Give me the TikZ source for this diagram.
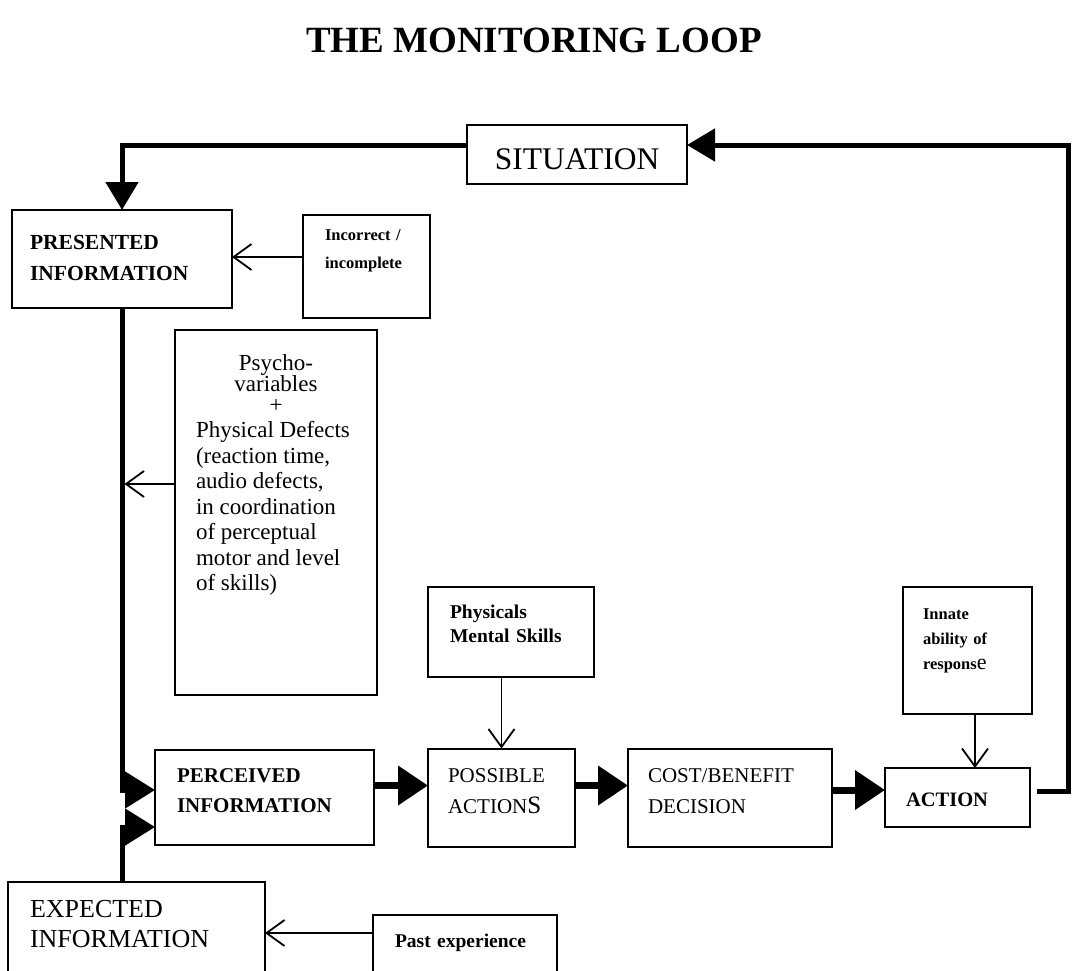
\documentclass[tikz,border=0pt]{standalone}
\usepackage{fontspec}
\setmainfont{Liberation Serif}
\usepackage{tikz}
\usetikzlibrary{
  arrows.meta,
  positioning,
}
\tikzstyle{box} = [
  rectangle,
  draw,
  line width=2pt,
  inner ysep=0pt,
  outer sep=0pt,
  align=left,
]
\tikzstyle{mainarrow} = [
  -{Triangle[length=30pt,width=38pt]},
  line width=7pt,
]
\tikzstyle{looparrow} = [
  -{Triangle[length=28pt,width=32pt]},
  line width=5pt,
]
\tikzstyle{sidearrow} = [
  -{Straight Barb[length=18pt,width=26pt]},
  line width=1.8pt,
]

\begin{document}
\begin{tikzpicture}[x=1pt,y=1pt,node distance=0pt and 0pt]
      \path[use as bounding box] (0,0) rectangle (1075,-970);
      \clip (0,0) rectangle (1075,-970);

      \node[anchor=base,font=\fontsize{37}{37}\selectfont\bfseries] (title) at (534,-52) {THE MONITORING LOOP};

      \node[box,align=center,text width=220pt,inner xsep=0pt,text height=44pt,text depth=15pt,font=\fontsize{31.5}{31.5}\selectfont] (situation) at (577,-154.5) {SITUATION};
      \node[box,text width=184pt,inner xsep=18pt,text height=39pt,text depth=59pt,font=\fontsize{21.5}{31}\selectfont\bfseries] (presented) at (122,-259) {PRESENTED\\INFORMATION};
      \node[box,text width=83pt,inner xsep=22pt,text height=25pt,text depth=78pt,font=\fontsize{16.5}{28}\selectfont\bfseries,yshift=-7.5pt] (incorrect) [right=71pt of presented] {Incorrect /\\incomplete};
      \node[box,align=none,text width=160pt,inner xsep=21pt,text height=40pt,text depth=325pt,font=\fontsize{23}{25.5}\selectfont] (psycho) at (276,-512.5)
        {{\centering\baselineskip=21pt Psycho-\\variables\\+\par}\raggedright Physical Defects\\(reaction time,\\audio defects,\\in coordination\\of perceptual\\motor and level\\of skills)};

      \node[box,text width=175pt,inner xsep=22pt,text height=32pt,text depth=63pt,font=\fontsize{21}{30}\selectfont\bfseries] (perceived) at (264.5,-797.5) {PERCEIVED\\INFORMATION};
      \node[box,text width=107pt,inner xsep=20pt,text height=34pt,text depth=64pt,font=\fontsize{21}{31}\selectfont] (possible) [right=54pt of perceived] {POSSIBLE\\ACTION{\fontsize{25}{25}\selectfont S}};
      \node[box,text width=164pt,inner xsep=20pt,text height=34pt,text depth=64pt,font=\fontsize{21}{31}\selectfont] (cost) [right=53pt of possible] {COST/BENEFIT\\DECISION};
      \node[box,text width=103pt,inner xsep=21pt,text height=38pt,text depth=21pt,font=\fontsize{20.5}{30}\selectfont\bfseries] (action) [right=53pt of cost] {ACTION};
      \node[box,text width=122pt,inner xsep=22pt,text height=32pt,text depth=58pt,font=\fontsize{19.5}{24}\selectfont\bfseries,xshift=9.5pt] (physicals) [above=72pt of possible] {Physicals\\Mental Skills};
      \node[box,text width=89pt,inner xsep=20pt,text height=32pt,text depth=95pt,font=\fontsize{16.5}{25}\selectfont\bfseries,xshift=10pt] (innate) [above=54pt of action] {Innate\\ability of\\respons{\fontsize{22}{22}\selectfont\mdseries e}};

      \node[box,text width=213pt,inner xsep=22pt,text height=35pt,text depth=68pt,font=\fontsize{26}{30}\selectfont] (expected) at (136.5,-933.5) {EXPECTED\\INFORMATION};
      \node[box,text width=140pt,inner xsep=22pt,text height=32pt,text depth=38pt,font=\fontsize{19.5}{24}\selectfont\bfseries,yshift=-16.5pt] (past) [right=108pt of expected] {Past experience};

      \coordinate (trunk) at ([xshift=2.5pt]presented.south);

      \draw[looparrow] ([yshift=9.5pt]situation.west) -| (presented.north);
      \draw[looparrow,shorten <=7pt] ([yshift=6.5pt]action.east) -- ++(38,0) |- ([yshift=9.5pt]situation.east);
      \draw[looparrow,-{Triangle[length=30pt,width=36pt]}] (presented.south) |- ([yshift=7.5pt]perceived.west);
      \draw[looparrow,-{Triangle[length=30pt,width=36pt]}] (expected.north -| presented.south) |- ([yshift=-29.5pt]perceived.west);

      \draw[mainarrow] ([yshift=12pt]perceived.east) -- ([yshift=12pt]perceived.east -| possible.west);
      \draw[mainarrow] ([yshift=12pt]possible.east) -- ([yshift=12pt]possible.east -| cost.west);
      \draw[mainarrow] ([yshift=7.5pt]cost.east) -- ([yshift=7.5pt]cost.east -| action.west);

      \draw[sidearrow] ([yshift=9.5pt]incorrect.west) -- ([yshift=9.5pt]incorrect.west -| presented.east);
      \draw[sidearrow] ([yshift=28.5pt]psycho.west) -- ([yshift=28.5pt]psycho.west -| trunk);
      \draw[sidearrow] (physicals.south -| possible.north) -- (possible.north);
      \draw[sidearrow] ([xshift=7.5pt]innate.south) -- ([xshift=7.5pt]innate.south |- action.north);
      \draw[sidearrow] ([yshift=17pt]past.west) -- ([yshift=17pt]past.west -| expected.east);
    \end{tikzpicture}
\end{document}
